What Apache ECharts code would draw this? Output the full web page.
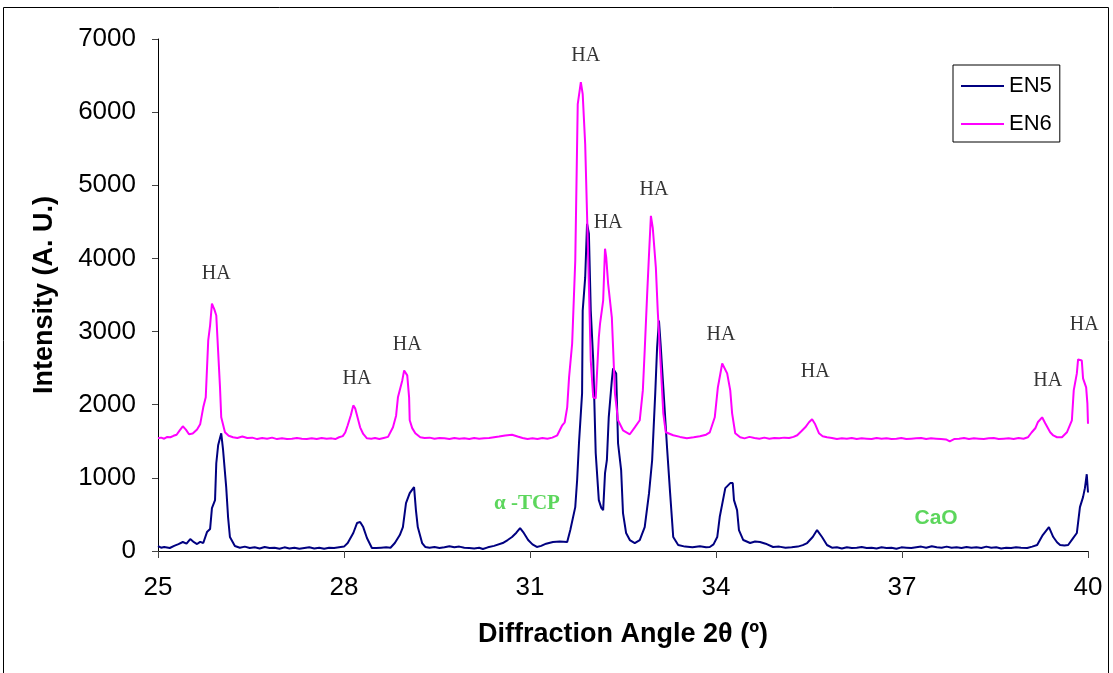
<!DOCTYPE html>
<html>
<head>
<meta charset="utf-8">
<title>XRD EN5 EN6</title>
<script src="https://cdn.jsdelivr.net/npm/echarts@6.0.0/dist/echarts.min.js"></script>
<style>
    html, body { margin: 0; padding: 0; background: #fff; }
    #echart1 { width: 1113px; height: 673px; }
</style>
</head>
<body>
<div id="echart1"></div>
<script>
// diffraction angle (2theta) / intensity
var en5 = [[25.00,68],[25.05,45],[25.10,55],[25.19,41],[25.26,70],[25.33,95],[25.40,123],[25.46,100],[25.52,164],[25.58,120],[25.63,95],[25.68,125],[25.73,109],[25.79,259],[25.84,300],[25.87,587],[25.92,696],[25.94,1200],[25.97,1446],[26.02,1610],[26.05,1378],[26.10,873],[26.13,464],[26.16,191],[26.24,68],[26.32,45],[26.40,60],[26.48,40],[26.56,50],[26.64,35],[26.72,55],[26.80,40],[26.88,45],[26.96,30],[27.04,50],[27.12,35],[27.20,45],[27.28,30],[27.36,40],[27.44,50],[27.52,35],[27.60,45],[27.68,30],[27.76,45],[27.84,40],[27.92,50],[28.00,60],[28.06,109],[28.15,246],[28.21,382],[28.26,396],[28.31,327],[28.37,177],[28.45,41],[28.52,40],[28.60,45],[28.68,50],[28.75,45],[28.82,109],[28.90,218],[28.95,327],[29.00,655],[29.06,791],[29.13,873],[29.16,559],[29.19,327],[29.26,109],[29.31,55],[29.38,45],[29.46,55],[29.54,40],[29.62,50],[29.70,65],[29.78,50],[29.86,60],[29.94,45],[30.02,40],[30.10,35],[30.18,45],[30.24,27],[30.32,50],[30.42,70],[30.56,109],[30.64,150],[30.71,191],[30.78,250],[30.84,314],[30.89,259],[30.97,150],[31.04,90],[31.11,55],[31.18,70],[31.26,100],[31.37,123],[31.48,130],[31.60,123],[31.65,286],[31.73,600],[31.76,968],[31.79,1473],[31.84,2155],[31.85,3287],[31.89,3737],[31.92,4474],[31.95,4338],[31.98,3287],[32.02,2605],[32.06,1337],[32.11,696],[32.15,590],[32.18,559],[32.21,1064],[32.24,1241],[32.27,1828],[32.32,2332],[32.34,2496],[32.39,2428],[32.42,1473],[32.47,1105],[32.50,518],[32.55,246],[32.61,150],[32.69,109],[32.77,150],[32.85,327],[32.92,791],[32.97,1241],[33.02,2155],[33.05,2783],[33.08,3151],[33.11,2783],[33.15,2237],[33.21,1419],[33.26,791],[33.31,191],[33.39,82],[33.50,60],[33.62,50],[33.74,65],[33.84,50],[33.90,55],[33.96,90],[34.02,191],[34.06,464],[34.15,859],[34.23,928],[34.27,928],[34.29,696],[34.34,559],[34.37,286],[34.44,150],[34.55,109],[34.63,130],[34.71,123],[34.80,100],[34.92,55],[35.02,60],[35.12,45],[35.22,50],[35.32,60],[35.40,80],[35.47,109],[35.56,191],[35.63,286],[35.71,191],[35.79,82],[35.87,45],[35.95,50],[36.03,35],[36.11,50],[36.19,40],[36.27,45],[36.35,55],[36.43,40],[36.51,45],[36.59,35],[36.67,50],[36.75,40],[36.83,45],[36.91,30],[36.99,50],[37.07,45],[37.15,40],[37.23,50],[37.31,60],[37.39,45],[37.48,65],[37.56,50],[37.64,45],[37.72,60],[37.80,45],[37.88,50],[37.96,40],[38.04,55],[38.12,45],[38.20,50],[38.28,40],[38.36,60],[38.44,45],[38.52,50],[38.60,35],[38.68,45],[38.76,40],[38.84,50],[38.92,45],[39.02,41],[39.10,60],[39.18,82],[39.27,218],[39.37,327],[39.44,191],[39.50,120],[39.55,82],[39.62,75],[39.68,82],[39.76,177],[39.82,246],[39.87,600],[39.92,737],[39.95,859],[39.98,1050],[39.99,1050],[40.00,800]];

var en6 = [[25.00,1541],[25.05,1550],[25.10,1535],[25.15,1560],[25.20,1555],[25.25,1575],[25.30,1590],[25.35,1650],[25.40,1705],[25.45,1660],[25.50,1596],[25.56,1605],[25.63,1660],[25.68,1732],[25.73,1964],[25.77,2101],[25.81,2878],[25.84,3083],[25.87,3383],[25.91,3300],[25.94,3219],[26.00,2237],[26.02,1828],[26.08,1623],[26.14,1575],[26.21,1555],[26.28,1545],[26.36,1565],[26.44,1545],[26.52,1550],[26.60,1530],[26.68,1545],[26.76,1535],[26.84,1550],[26.92,1530],[27.00,1540],[27.08,1530],[27.16,1535],[27.24,1545],[27.32,1535],[27.40,1530],[27.48,1540],[27.56,1530],[27.64,1545],[27.72,1535],[27.80,1540],[27.86,1530],[27.92,1555],[27.98,1570],[28.02,1620],[28.06,1719],[28.11,1855],[28.15,1991],[28.18,1950],[28.21,1923],[28.26,1691],[28.31,1600],[28.37,1541],[28.44,1535],[28.50,1545],[28.57,1530],[28.64,1545],[28.71,1560],[28.79,1691],[28.84,1850],[28.87,2101],[28.94,2332],[28.97,2469],[29.02,2401],[29.05,2101],[29.06,1787],[29.10,1680],[29.15,1610],[29.23,1555],[29.30,1545],[29.38,1550],[29.46,1535],[29.54,1545],[29.62,1540],[29.70,1530],[29.78,1545],[29.86,1535],[29.94,1540],[30.02,1530],[30.10,1545],[30.18,1535],[30.26,1540],[30.34,1545],[30.42,1555],[30.50,1565],[30.60,1580],[30.71,1590],[30.80,1565],[30.88,1545],[30.96,1530],[31.04,1540],[31.12,1530],[31.20,1545],[31.28,1535],[31.36,1550],[31.44,1582],[31.52,1719],[31.56,1760],[31.60,1964],[31.63,2373],[31.68,2837],[31.73,3969],[31.77,6111],[31.82,6411],[31.85,6247],[31.89,5565],[31.94,3969],[31.98,2605],[32.02,2101],[32.06,2087],[32.11,2919],[32.13,3110],[32.18,3424],[32.21,4133],[32.23,4010],[32.24,4037],[32.26,3656],[32.32,3192],[32.34,2783],[32.37,2155],[32.42,1787],[32.50,1650],[32.61,1596],[32.69,1691],[32.77,1787],[32.82,2196],[32.85,2742],[32.89,3519],[32.92,4065],[32.95,4583],[32.98,4419],[33.03,3874],[33.06,3287],[33.11,2510],[33.15,1882],[33.19,1623],[33.31,1582],[33.42,1560],[33.53,1541],[33.64,1555],[33.74,1569],[33.84,1590],[33.90,1623],[33.98,1828],[34.03,2237],[34.10,2564],[34.13,2564],[34.18,2428],[34.23,2196],[34.26,1882],[34.31,1610],[34.39,1555],[34.46,1540],[34.54,1560],[34.62,1545],[34.70,1535],[34.78,1550],[34.86,1535],[34.94,1545],[35.02,1540],[35.10,1550],[35.18,1545],[35.25,1560],[35.31,1582],[35.38,1640],[35.44,1691],[35.50,1760],[35.55,1800],[35.60,1732],[35.66,1610],[35.72,1570],[35.79,1555],[35.87,1545],[35.95,1530],[36.03,1540],[36.11,1535],[36.19,1545],[36.27,1530],[36.35,1540],[36.43,1535],[36.51,1530],[36.59,1545],[36.67,1535],[36.75,1540],[36.83,1530],[36.91,1535],[36.99,1545],[37.07,1530],[37.15,1535],[37.23,1540],[37.31,1545],[37.39,1530],[37.47,1540],[37.55,1535],[37.63,1530],[37.71,1525],[37.77,1500],[37.84,1530],[37.92,1535],[38.00,1545],[38.08,1530],[38.16,1540],[38.24,1535],[38.32,1530],[38.40,1540],[38.48,1545],[38.56,1530],[38.64,1535],[38.72,1540],[38.80,1530],[38.88,1545],[38.96,1535],[39.03,1555],[39.09,1620],[39.15,1678],[39.19,1760],[39.26,1828],[39.31,1746],[39.39,1623],[39.44,1580],[39.50,1555],[39.58,1555],[39.66,1623],[39.74,1787],[39.77,2196],[39.82,2428],[39.84,2619],[39.90,2605],[39.92,2360],[39.97,2237],[39.99,2019],[40.00,1740]];

var xTicks = [25, 28, 31, 34, 37, 40];
var seriesNames = ['EN5', 'EN6'];

// phase labels: [angle, intensity, text]
var peakLabels = [
    [25.94, 3792, 'HA'], [28.21, 2360, 'HA'], [29.02, 2823, 'HA'],
    [31.90, 6765, 'HA'], [32.26, 4488, 'HA'], [33.00, 4938, 'HA'],
    [34.08, 2960, 'HA'], [35.60, 2455, 'HA'], [39.35, 2332, 'HA'],
    [39.94, 3096, 'HA']
];
var phaseLabels = [
    [30.95, 655, 'α -TCP', 'serif'],
    [37.55, 450, 'CaO', 'sans']
];

var SANS = '"Liberation Sans", Arial, sans-serif';
var SERIF = '"Liberation Serif", "Times New Roman", serif';

function buildLabels() {
    var out = [];
    peakLabels.forEach(function (el) {
        out.push({
            value: [el[0], el[1]],
            label: { formatter: el[2], fontFamily: SERIF, fontSize: 20, color: '#000' }
        });
    });
    phaseLabels.forEach(function (el) {
        out.push({
            value: [el[0], el[1]],
            label: {
                formatter: el[2],
                fontFamily: el[3] == 'serif' ? SERIF : SANS,
                fontWeight: 'bold',
                fontSize: 21,
                color: '#33cc33'
            }
        });
    });
    return out;
}

function initELine(domId) {
    var myChart = echarts.init(document.getElementById(domId));
    var option = {
        backgroundColor: '#fff',
        animation: false,
        color: ['#000080', '#ff00ff'],
        graphic: [{
            type: 'rect',
            shape: { x: 3.5, y: 7.5, width: 1105, height: 680 },
            style: { fill: 'none', stroke: '#000', lineWidth: 1 },
            silent: true
        }],
        legend: {
            data: seriesNames,
            orient: 'vertical',
            left: 953,
            top: 65,
            padding: [10, 8, 7, 8],
            itemGap: 16,
            itemWidth: 43,
            itemHeight: 2,
            icon: 'rect',
            borderColor: '#000',
            borderWidth: 1,
            backgroundColor: '#fff',
            textStyle: { fontSize: 22, fontFamily: SANS, color: '#000' }
        },
        grid: { left: 158, right: 25, top: 39, bottom: 122, containLabel: false },
        xAxis: {
            type: 'value',
            min: 25,
            max: 40,
            name: 'Diffraction Angle 2θ (º)',
            nameLocation: 'middle',
            nameGap: 70,
            nameTextStyle: { fontSize: 27, fontWeight: 'bold', fontFamily: SANS, color: '#000' },
            axisLine: { lineStyle: { color: '#000', width: 1 } },
            axisTick: { show: true, length: 7, customValues: xTicks, lineStyle: { color: '#444' } },
            axisLabel: { customValues: xTicks, margin: 24, fontSize: 26, fontFamily: SANS, color: '#000' },
            splitLine: { show: false }
        },
        yAxis: {
            type: 'value',
            min: 0,
            max: 7000,
            interval: 1000,
            name: 'Intensity (A. U.)',
            nameLocation: 'middle',
            nameGap: 100,
            nameTextStyle: { fontSize: 27, fontWeight: 'bold', fontFamily: SANS, color: '#000' },
            axisLine: { show: true, lineStyle: { color: '#000', width: 1 } },
            axisTick: { show: true, length: 6, lineStyle: { color: '#444' } },
            axisLabel: {
                margin: 22, fontSize: 26, fontFamily: SANS, color: '#000',
                formatter: function (v) { return String(v); }
            },
            splitLine: { show: false }
        },
        series: [{
            name: 'EN5',
            type: 'line',
            data: en5,
            symbol: 'none',
            lineStyle: { width: 2, color: '#000080' }
        }, {
            name: 'EN6',
            type: 'line',
            data: en6,
            symbol: 'none',
            lineStyle: { width: 2, color: '#ff00ff' }
        }, {
            name: 'labels',
            type: 'scatter',
            data: buildLabels(),
            symbolSize: 1,
            itemStyle: { color: 'rgba(0,0,0,0)' },
            label: { show: true, position: 'inside' },
            silent: true,
            z: 5
        }]
    };
    myChart.setOption(option);
}

initELine('echart1');
</script>
</body>
</html>
